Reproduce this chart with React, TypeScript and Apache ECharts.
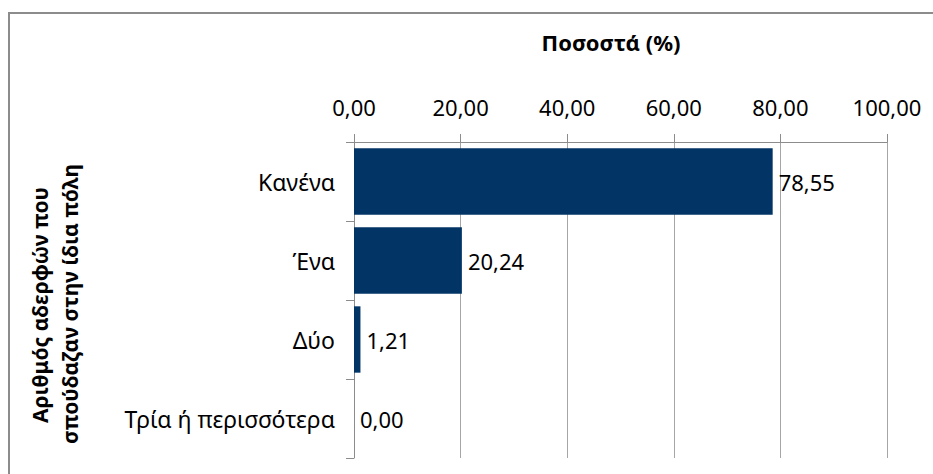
import React, { useEffect, useRef } from "react";
import * as echarts from "echarts";

const categories = ["Κανένα", "Ένα", "Δύο", "Τρία ή περισσότερα"];
const values = [78.55, 20.24, 1.21, 0.0];
const xTicks = [0, 20, 40, 60, 80, 100];
const xAxisTitle = "Ποσοστά (%)";
const yAxisTitle = ["Αριθμός αδερφών που", "σπούδαζαν στην ίδια πόλη"];

const fmt = (v: number) => v.toFixed(2).replace(".", ",");

export default function App() {
  const ref = useRef<HTMLDivElement>(null);
  useEffect(() => {
    document.body.style.margin = "0";
    const chart = echarts.init(ref.current!, undefined, { renderer: "svg" });
    const font = "'Noto Sans', 'Open Sans', sans-serif";
    chart.setOption({
      animation: false,
      backgroundColor: "#ffffff",
      textStyle: { fontFamily: font },
      graphic: [
        {
          type: "rect",
          shape: { x: 9, y: 13, width: 960, height: 500 },
          style: { fill: "none", stroke: "#8c8c8c", lineWidth: 2 },
          silent: true,
        },
        {
          type: "text",
          x: 611,
          y: 42,
          style: {
            text: xAxisTitle,
            fontSize: 22,
            fontWeight: "bold",
            fontFamily: font,
            fill: "#000",
            textAlign: "center",
            textVerticalAlign: "middle",
          },
        },
        {
          type: "text",
          x: 40,
          y: 305,
          rotation: Math.PI / 2,
          style: {
            text: yAxisTitle[0],
            fontSize: 21,
            fontWeight: "bold",
            fontFamily: font,
            fill: "#000",
            textAlign: "center",
            textVerticalAlign: "middle",
          },
        },
        {
          type: "text",
          x: 70,
          y: 304,
          rotation: Math.PI / 2,
          style: {
            text: yAxisTitle[1],
            fontSize: 21,
            fontWeight: "bold",
            fontFamily: font,
            fill: "#000",
            textAlign: "center",
            textVerticalAlign: "middle",
          },
        },
      ],
      grid: { left: 354, right: 46, top: 142, bottom: 16, containLabel: false },
      xAxis: {
        type: "value",
        position: "top",
        min: xTicks[0],
        max: xTicks[xTicks.length - 1],
        interval: 20,
        axisLine: { show: true, lineStyle: { color: "#8c8c8c", width: 1 } },
        axisTick: { show: true, length: 8, lineStyle: { color: "#8c8c8c" } },
        axisLabel: {
          formatter: (v: number) => fmt(v),
          fontSize: 22,
          color: "#000",
          margin: 24,
          fontFamily: font,
        },
        splitLine: { show: true, lineStyle: { color: "#a6a6a6", width: 1 } },
      },
      yAxis: {
        type: "category",
        data: categories,
        inverse: true,
        axisLine: { show: true, lineStyle: { color: "#8c8c8c", width: 1 } },
        axisTick: { show: true, length: 8, lineStyle: { color: "#8c8c8c" } },
        axisLabel: { fontSize: 23, color: "#000", margin: 19, fontFamily: font },
        splitLine: { show: false },
      },
      series: [
        {
          type: "bar",
          data: values,
          barCategoryGap: "16%",
          itemStyle: { color: "#023466" },
          label: {
            show: true,
            position: "right",
            distance: 6,
            formatter: (p: any) => fmt(p.value),
            fontSize: 22,
            color: "#000",
            fontFamily: font,
          },
        },
      ],
    });
    return () => chart.dispose();
  }, []);
  return <div ref={ref} style={{ width: 933, height: 474 }} />;
}
